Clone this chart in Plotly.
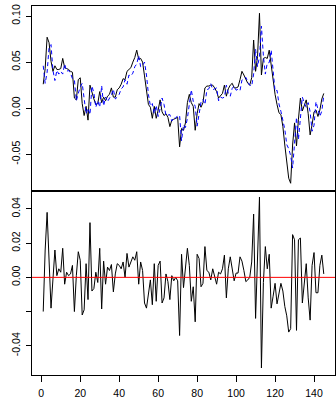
import plotly.graph_objects as go

# Time index of the series
t = list(range(1, 146))

# Observed series (black line, top panel)
actual = [
    0.026, 0.043, 0.077, 0.071, 0.051, 0.040, 0.046, 0.042, 0.042, 0.043,
    0.054, 0.044, 0.043, 0.042, 0.040, 0.039, 0.011, 0.009, 0.031, 0.033,
    0.005, -0.008, 0.002, -0.013, 0.025, 0.016, 0.010, 0.004, 0.005, 0.018,
    0.006, 0.012, 0.008, 0.013, 0.015, 0.022, 0.012, 0.012, 0.020, 0.022,
    0.026, 0.032, 0.031, 0.040, 0.042, 0.044, 0.050, 0.055, 0.063, 0.053,
    0.054, 0.050, 0.035, 0.018, 0.004, 0.001, -0.011, 0.002, -0.011, -0.002,
    0.009, -0.004, -0.008, -0.006, -0.010, -0.020, -0.013, -0.012, -0.011, -0.010,
    -0.042, -0.022, -0.024, -0.016, 0.006, 0.015, 0.006, 0.002, -0.024, -0.006,
    0.005, 0.001, 0.006, 0.022, 0.024, 0.024, 0.025, 0.025, 0.022, 0.018,
    0.011, 0.014, 0.016, 0.025, 0.013, 0.021, 0.025, 0.027, 0.022, 0.022,
    0.023, 0.031, 0.040, 0.036, 0.031, 0.027, 0.025, 0.033, 0.074, 0.040,
    0.056, 0.103, 0.036, 0.054, 0.055, 0.054, 0.063, 0.045, 0.031, 0.015,
    0.004, -0.005, -0.007, -0.020, -0.040, -0.062, -0.076, -0.0815, -0.040, -0.016,
    -0.041, -0.012, 0.011, -0.003, 0.004, 0.009, -0.006, -0.029, -0.018, -0.004,
    -0.002, -0.009, -0.002, 0.010, 0.016,
]

# Fitted values (blue dashed line, top panel)
fitted = [
    0.046, 0.027, 0.039, 0.066, 0.069, 0.041, 0.030, 0.041, 0.037, 0.040,
    0.037, 0.048, 0.040, 0.041, 0.038, 0.032, 0.031, 0.008, 0.016, 0.023,
    0.027, 0.011, -0.006, 0.000, -0.007, 0.024, 0.0165, 0.001, 0.008, 0.001,
    0.0245, 0.0025, 0.012, 0.007, 0.011, 0.0145, 0.0205, 0.010, 0.012, 0.015,
    0.021, 0.023, 0.031, 0.026, 0.036, 0.035, 0.038, 0.045, 0.048, 0.057,
    0.045, 0.046, 0.050, 0.036, 0.015, 0.0025, 0.005, -0.006, 0.003, -0.009,
    -0.0005, 0.011, 0.004, -0.008, -0.0075, -0.007, -0.014, -0.010, -0.011, -0.008,
    -0.008, -0.0355, -0.018, -0.021, -0.011, 0.008, 0.020, 0.0075, 0.002, -0.0195,
    -0.006, 0.0065, 0.0095, 0.004, 0.020, 0.021, 0.0265, 0.020, 0.021, 0.022,
    0.008, 0.012, 0.011, 0.012, 0.025, 0.016, 0.013, 0.0215, 0.024, 0.0195,
    0.0205, 0.019, 0.0305, 0.032, 0.0335, 0.0285, 0.025, 0.024, 0.037, 0.064,
    0.045, 0.056, 0.089, 0.057, 0.037, 0.049, 0.0495, 0.063, 0.042, 0.0185,
    0.0195, 0.0045, -0.0035, -0.012, -0.023, -0.0395, -0.044, -0.0515, -0.065, -0.038,
    -0.010, -0.034, -0.012, 0.012, 0.0055, 0.001, 0.006, -0.004, -0.025, -0.0185,
    0.007, 0.000, -0.009, -0.003, 0.014,
]

# Residuals (bottom panel)
resid = [
    -0.020, 0.016, 0.038, 0.005, -0.018, -0.001, 0.016, 0.001, 0.005, 0.003,
    0.017, -0.004, 0.003, 0.001, 0.002, 0.007, -0.020, 0.001, 0.015, 0.010,
    -0.022, -0.019, 0.008, -0.013, 0.032, -0.008, -0.0065, 0.003, -0.003, 0.017,
    -0.0185, 0.0095, -0.004, 0.006, 0.004, 0.0075, -0.0085, 0.002, 0.008, 0.007,
    0.005, 0.009, 0.000, 0.014, 0.006, 0.009, 0.012, 0.010, 0.015, -0.004,
    0.009, 0.004, -0.015, -0.018, -0.011, -0.0015, -0.016, 0.008, -0.014, 0.007,
    0.0095, -0.015, -0.012, 0.002, -0.0025, -0.013, 0.001, -0.002, 0.000, -0.002,
    -0.034, 0.0135, -0.006, 0.005, 0.017, 0.007, -0.014, -0.0055, -0.026, 0.0135,
    0.011, -0.0055, -0.0035, 0.018, 0.004, 0.003, -0.0015, 0.005, 0.001, -0.004,
    0.003, 0.002, 0.005, 0.013, -0.012, 0.005, 0.012, 0.0055, -0.002, 0.0025,
    0.0025, 0.012, 0.0095, 0.004, -0.0025, -0.0015, 0.000, 0.009, 0.037, -0.024,
    0.011, 0.047, -0.053, -0.003, 0.018, 0.005, 0.0135, -0.018, -0.011, -0.0035,
    -0.0155, -0.0095, -0.0035, -0.008, -0.017, -0.0225, -0.032, -0.030, 0.025, 0.022,
    -0.031, 0.022, 0.023, -0.015, -0.0015, 0.008, -0.012, -0.025, 0.007, 0.0145,
    -0.009, -0.009, 0.007, 0.013, 0.002,
]

# Axis ticks
x_ticks = [0, 20, 40, 60, 80, 100, 120, 140]
top_ticks = [0.10, 0.05, 0.00, -0.05]
top_labels = ["0.10", "0.05", "0.00", "-0.05"]
bottom_ticks = [0.04, 0.02, 0.00, -0.02, -0.04]
bottom_labels = ["0.04", "0.02", "0.00", "", "-0.04"]

FONT = dict(family="Liberation Sans, Arial, sans-serif", size=10.5, color="#000000")
LINE = dict(showline=True, mirror=True, linecolor="#000000", linewidth=1,
            showgrid=False, zeroline=False)

fig = go.Figure()
fig.add_trace(go.Scatter(x=t, y=actual, mode="lines",
                         line=dict(color="#000000", width=1),
                         xaxis="x2", yaxis="y2"))
fig.add_trace(go.Scatter(x=t, y=fitted, mode="lines",
                         line=dict(color="#0000FF", width=1, dash="4px,3px"),
                         xaxis="x2", yaxis="y2"))
fig.add_trace(go.Scatter(x=t, y=resid, mode="lines",
                         line=dict(color="#000000", width=1),
                         xaxis="x", yaxis="y"))

# zero reference line across the residual panel
fig.add_shape(type="line", xref="x domain", x0=0, x1=1, yref="y", y0=0, y1=0,
              line=dict(color="#FF0000", width=1))

split = 184 / 369
fig.update_layout(
    width=336, height=401,
    margin=dict(l=32, r=1, t=6, b=26),
    paper_bgcolor="white", plot_bgcolor="white",
    showlegend=False,
    font=FONT,
    xaxis=dict(domain=[0, 1], range=[-4.76, 150.76], anchor="y",
               tickmode="array", tickvals=x_ticks,
               ticks="outside", ticklen=6, tickcolor="#000000",
               ticklabelstandoff=2, tickfont=FONT, **LINE),
    yaxis=dict(domain=[0, split], range=[-0.0571, 0.0505], anchor="x",
               tickmode="array", tickvals=bottom_ticks, ticktext=bottom_labels,
               tickangle=-90, ticks="outside", ticklen=5, tickcolor="#000000",
               ticklabelstandoff=2, tickfont=FONT, **LINE),
    xaxis2=dict(domain=[0, 1], range=[-4.76, 150.76], anchor="y2", matches="x",
                showticklabels=False, ticks="", **LINE),
    yaxis2=dict(domain=[split, 1], range=[-0.0899, 0.1109], anchor="x2",
                tickmode="array", tickvals=top_ticks, ticktext=top_labels,
                tickangle=-90, ticks="outside", ticklen=5, tickcolor="#000000",
                ticklabelstandoff=2, tickfont=FONT, **LINE),
)

fig.write_html("out.html")
